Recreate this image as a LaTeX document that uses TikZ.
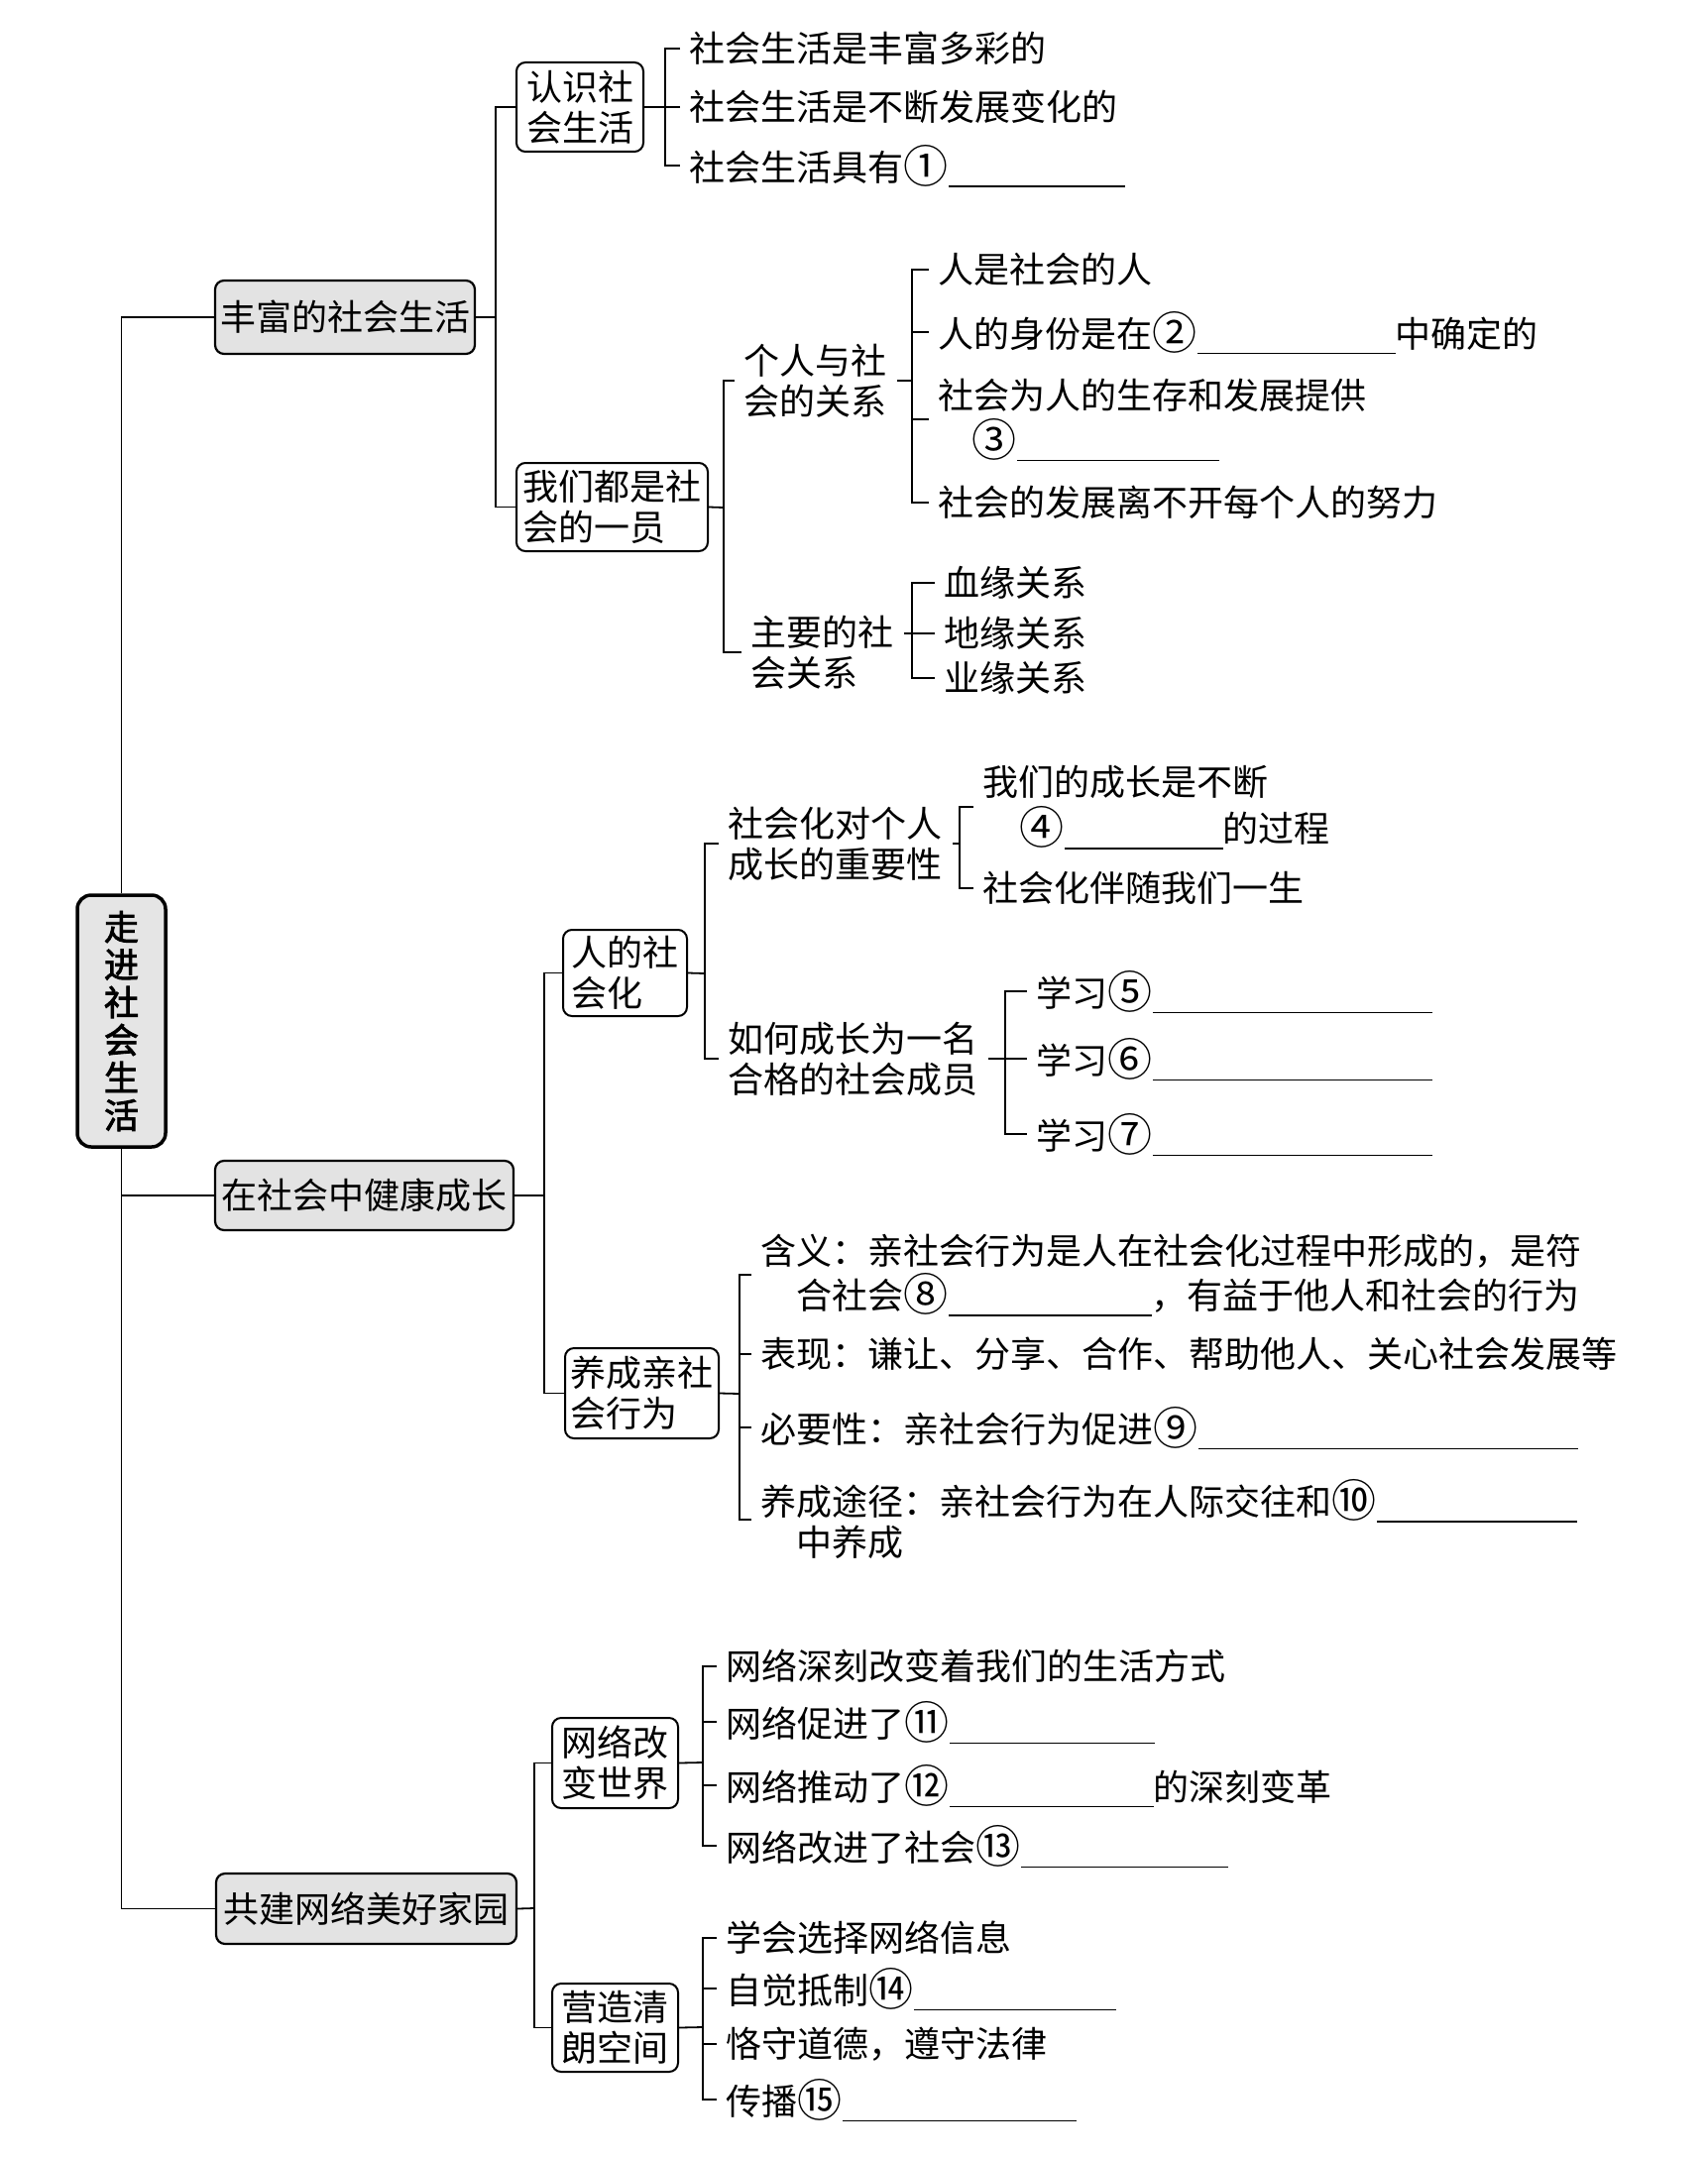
\documentclass[tikz,border=0pt]{standalone}
\usepackage{fontspec}
\setmainfont{Noto Sans CJK SC}[AutoFakeBold=2.5]
\usetikzlibrary{calc}
\newcommand\blank[1]{\smash{\rule[-7pt]{#1pt}{1.6pt}}}
\newcommand\cn[1]{{\fontsize{45}{41}\selectfont\raisebox{-2pt}{#1}}}
\begin{document}
\begin{tikzpicture}[x=1pt,y=-1pt,line width=1.8pt,
  txt/.style={font=\fontsize{36}{41}\selectfont},
  leaf/.style={txt,anchor=west,inner xsep=9pt,inner ysep=2pt,align=left},
  lone/.style={draw,line width=2.2pt,rounded corners=9pt,fill=gray!22,txt,inner sep=0pt,align=center},
  ltwo/.style={draw,line width=2pt,rounded corners=9pt,fill=white,txt,inner sep=0pt,align=left},
  rootbox/.style={draw,line width=3.5pt,rounded corners=14pt,fill=gray!20,font=\fontsize{35}{38}\selectfont\bfseries,align=center,minimum width=89pt,minimum height=254pt,inner sep=0pt}]
\useasboundingbox (0,0) rectangle (1723,2178);

% root and level 1
\node[rootbox] (root) at (122.5,1030) {走\\进\\社\\会\\生\\活};
\node[lone,minimum width=262pt,minimum height=74pt] (fengfu) at (348,320) {丰富的社会生活};
\node[lone,minimum width=301pt,minimum height=70pt] (jiankang) at (367.5,1206) {在社会中健康成长};
\node[lone,minimum width=303pt,minimum height=71pt] (gongjian) at (369.5,1925.5) {共建网络美好家园};

% level 2
\node[ltwo,minimum width=128pt,minimum height=90pt] (renshi) at (585,108) {认识社\\会生活};
\node[ltwo,minimum width=193pt,minimum height=89pt] (women) at (617.5,511.5) {我们都是社\\会的一员};
\node[ltwo,minimum width=125pt,minimum height=87pt] (shehuihua) at (630.5,981.5) {人的社\\会化};
\node[ltwo,minimum width=155pt,minimum height=91pt] (yangcheng) at (647.5,1405.5) {养成亲社\\会行为};
\node[ltwo,minimum width=127pt,minimum height=91pt] (wangluo) at (620.5,1778.5) {网络改\\变世界};
\node[ltwo,minimum width=127pt,minimum height=89pt] (yingzao) at (620.5,2045.5) {营造清\\朗空间};

% junctions
\coordinate (j1) at (500,320);
\coordinate (j2) at (549,1206);
\coordinate (j3) at (539,1925);
\coordinate (ja) at (671,108);
\coordinate (jb) at (730,512);
\coordinate (jc) at (920,384);
\coordinate (jd) at (920,639);
\coordinate (je) at (711,982);
\coordinate (jf) at (968,851);
\coordinate (jg) at (1014,1068);
\coordinate (jh) at (746,1406);
\coordinate (jk) at (709,1778);
\coordinate (jm) at (709,2045);

% leaves: 认识社会生活
\node[leaf] (a1) at (686,49) {社会生活是丰富多彩的};
\node[leaf] (a2) at (686,108) {社会生活是不断发展变化的};
\node[leaf] (a3) at (686,167) {社会生活具有\cn{①}\blank{178}};

% 我们都是社会的一员
\node[leaf] (b1) at (741,384) {个人与社\\会的关系};
\node[leaf] (b2) at (748,658) {主要的社\\会关系};
\node[leaf] (c1) at (937,272) {人是社会的人};
\node[leaf] (c2) at (937,335) {人的身份是在\cn{②}\blank{200}中确定的};
\node[leaf,font=\fontsize{36}{46}\selectfont] (c3) at (937,423) {社会为人的生存和发展提供\\\hspace*{34pt}\cn{③}\blank{204}};
\node[leaf] (c4) at (937,507) {社会的发展离不开每个人的努力};
\node[leaf] (d1) at (943,588) {血缘关系};
\node[leaf] (d2) at (943,639) {地缘关系};
\node[leaf] (d3) at (943,684) {业缘关系};

% 人的社会化
\node[leaf] (e1) at (725,851) {社会化对个人\\成长的重要性};
\node[leaf] (e2) at (725,1068) {如何成长为一名\\合格的社会成员};
\node[leaf,font=\fontsize{36}{47}\selectfont] (f1) at (982,814) {我们的成长是不断\\\hspace*{37pt}\cn{④}\blank{160}的过程};
\node[leaf] (f2) at (982,896) {社会化伴随我们一生};
\node[leaf] (g1) at (1036,1000) {学习\cn{⑤}\blank{282}};
\node[leaf] (g2) at (1036,1068) {学习\cn{⑥}\blank{282}};
\node[leaf] (g3) at (1036,1144) {学习\cn{⑦}\blank{282}};

% 养成亲社会行为
\node[leaf,font=\fontsize{36}{45}\selectfont] (h1) at (758,1286) {含义：亲社会行为是人在社会化过程中形成的，是符\\\hspace*{36pt}合社会\cn{⑧}\blank{205}，有益于他人和社会的行为};
\node[leaf] (h2) at (758,1366) {表现：谦让、分享、合作、帮助他人、关心社会发展等};
\node[leaf] (h3) at (758,1440) {必要性：亲社会行为促进\cn{⑨}\blank{383}};
\node[leaf] (h4) at (758,1533) {养成途径：亲社会行为在人际交往和\cn{⑩}\blank{202}\\\hspace*{36pt}中养成};

% 网络改变世界
\node[leaf] (k1) at (723,1681) {网络深刻改变着我们的生活方式};
\node[leaf] (k2) at (723,1737) {网络促进了\cn{⑪}\blank{207}};
\node[leaf] (k3) at (723,1801) {网络推动了\cn{⑫}\blank{206}的深刻变革};
\node[leaf] (k4) at (723,1862) {网络改进了社会\cn{⑬}\blank{209}};

% 营造清朗空间
\node[leaf] (m1) at (723,1955) {学会选择网络信息};
\node[leaf] (m2) at (723,2006) {自觉抵制\cn{⑭}\blank{204}};
\node[leaf] (m3) at (723,2062) {恪守道德，遵守法律};
\node[leaf] (m4) at (723,2118) {传播\cn{⑮}\blank{236}};

% connectors
\draw (root.north) |- (fengfu.west);
\draw (root.south) |- (jiankang.west);
\draw (root.south) |- (gongjian.west);

\draw (fengfu.east) -- (j1);
\draw (renshi.west) -| (j1) |- (women.west);
\draw (renshi.east) -- (ja);
\draw (a1.west) -| (ja) |- (a3.west);
\draw (a2.west) -- (a2.west -| ja);
\draw (women.east) -- (jb);
\draw (b1.west) -| (jb) |- (b2.west);
\draw (b1.east) -- (jc);
\draw (c1.west) -| (jc) |- (c4.west);
\draw (c2.west) -- (c2.west -| jc);
\draw (c3.west) -- (c3.west -| jc);
\draw (b2.east |- d2.west) -- (d2.west);
\draw (d1.west) -| (jd) |- (d3.west);

\draw (jiankang.east) -- (j2);
\draw (shehuihua.west) -| (j2) |- (yangcheng.west);
\draw (shehuihua.east) -- (je);
\draw (e1.west) -| (je) |- (e2.west);
\draw (e1.east) -- (jf);
\draw (f1.west) -| (jf) |- (f2.west);
\draw (e2.east) -- (jg);
\draw (g1.west) -| (jg) |- (g3.west);
\draw (jg) -- (g2.west);
\draw (yangcheng.east) -- (jh);
\draw (h1.west) -| (jh) |- (h4.west);
\draw (h2.west) -- (h2.west -| jh);
\draw (h3.west) -- (h3.west -| jh);

\draw (gongjian.east) -- (j3);
\draw (wangluo.west) -| (j3) |- (yingzao.west);
\draw (wangluo.east) -- (jk);
\draw (k1.west) -| (jk) |- (k4.west);
\draw (k2.west) -- (k2.west -| jk);
\draw (k3.west) -- (k3.west -| jk);
\draw (yingzao.east) -- (jm);
\draw (m1.west) -| (jm) |- (m4.west);
\draw (m2.west) -- (m2.west -| jm);
\draw (m3.west) -- (m3.west -| jm);
\end{tikzpicture}
\end{document}
